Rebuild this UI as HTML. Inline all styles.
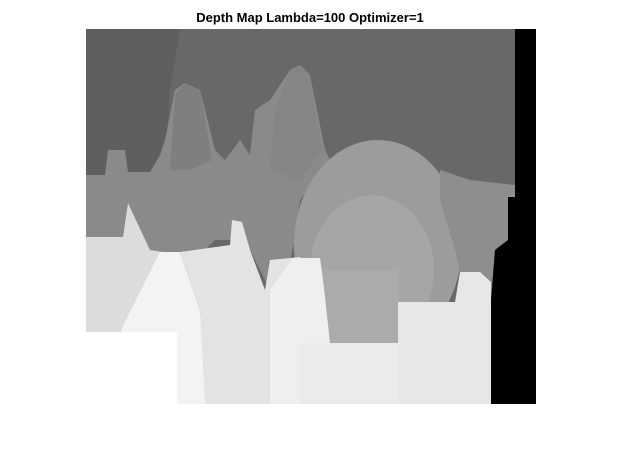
<!DOCTYPE html>
<html><head><meta charset="utf-8"><style>
html,body{margin:0;padding:0;background:#fff;width:624px;height:468px;overflow:hidden}
svg{display:block}
</style></head><body>
<svg width="624" height="468" viewBox="0 0 624 468">
<text x="310" y="22" text-anchor="middle" font-family="Liberation Sans, sans-serif" font-weight="bold" font-size="13" fill="#000">Depth Map Lambda=100 Optimizer=1</text>
<g id="img"></g>
</svg>
<script>
const regionNames = ['base','dark-left','mid-band','cone-a','cone-b','bubble','bubble-inner','right-mid','light-left','white-cone','mid-light','light-cone','bubble-bottom','bottom-strip','right-bottom','blank-corner','black-edge'];
const regionShades = ['#686868','#5f5f5f','#8a8a8a','#7f7f7f','#858585','#9c9c9c','#a6a6a6','#8e8e8e','#dcdcdc','#f3f3f3','#e3e3e3','#efefef','#ababab','#ebebeb','#e7e7e7','#ffffff','#000000'];
const regionPoints = [
 "86,29 515,29 515,404 86,404",
 "86,29 180,29 170,90 165,175 86,175",
 "86,175 105,175 108,150 125,150 128,172 150,172 160,155 165,140 175,90 185,83 200,90 215,150 225,160 240,140 250,155 255,110 270,100 290,70 300,65 310,75 325,150 330,160 300,200 295,240 290,260 270,290 250,250 232,240 215,240 205,250 180,252 163,252 150,250 128,203 123,237 86,237",
 "175,95 185,83 200,90 212,160 190,170 170,170",
 "275,110 290,70 300,65 310,75 322,150 300,180 270,170",
 "",
 "",
 "440,170 470,180 515,185 515,197 508,197 508,240 495,250 491,300 485,300 480,272 460,272 455,250 440,200",
 "86,237 123,237 128,203 150,250 163,252 120,332 86,332",
 "160,252 180,252 200,310 210,404 177,404 177,332 120,332",
 "180,252 230,245 232,220 242,222 250,250 265,290 270,260 300,257 320,290 322,345 300,404 205,404 200,310",
 "270,290 293,258 320,258 330,330 330,404 270,404",
 "322,270 398,270 398,343 330,343",
 "300,343 491,343 491,404 300,404",
 "398,302 455,302 460,272 480,272 491,282 491,404 398,404",
 "86,332 177,332 177,404 86,404",
 "515,29 536,29 536,404 491,404 491,300 495,250 508,240 508,197 515,197"
];
const g = document.getElementById('img');
const NS = 'http://www.w3.org/2000/svg';
for (let i = 0; i < regionNames.length; i++) {
  let el;
  if (regionNames[i] === 'bubble') {
    el = document.createElementNS(NS, 'ellipse');
    el.setAttribute('cx', 378); el.setAttribute('cy', 245); el.setAttribute('rx', 84); el.setAttribute('ry', 105);
  } else if (regionNames[i] === 'bubble-inner') {
    el = document.createElementNS(NS, 'ellipse');
    el.setAttribute('cx', 372); el.setAttribute('cy', 270); el.setAttribute('rx', 62); el.setAttribute('ry', 75);
  } else {
    el = document.createElementNS(NS, 'polygon');
    el.setAttribute('points', regionPoints[i]);
  }
  el.setAttribute('fill', regionShades[i]);
  
  
  g.appendChild(el);
}
</script>
</body></html>
